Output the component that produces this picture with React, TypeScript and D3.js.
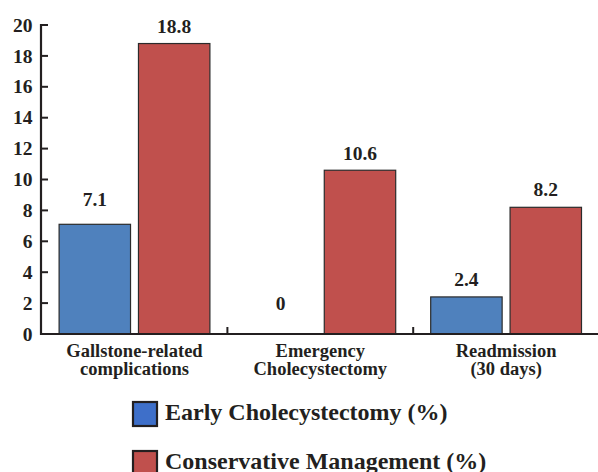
import React from "react";
import * as d3 from "d3";

// Outcome categories (two-line labels) and the two compared strategies
const categories = ["Gallstone-related complications", "Emergency Cholecystectomy", "Readmission (30 days)"];
const categoryLines = [
  ["Gallstone-related", "complications"],
  ["Emergency", "Cholecystectomy"],
  ["Readmission", "(30 days)"],
];
const seriesNames = ["Early Cholecystectomy (%)", "Conservative Management (%)"];
const earlyValues = [7.1, 0, 2.4];
const conservativeValues = [18.8, 10.6, 8.2];
const yTicks = [0, 2, 4, 6, 8, 10, 12, 14, 16, 18, 20];

// Vertical lift of each value label's baseline above its bar top
const earlyLabelLift = [18, 24, 11];
const conservativeLabelLift = [10.5, 10, 11];

const WIDTH = 598;
const HEIGHT = 472;
const FONT = "'Liberation Serif', 'Times New Roman', serif";
const INK = "#231f20";
const barFill = ["#4f81bd", "#c0504d"];
const legendFill = ["#3e6fc9", "#c0504d"];

export default function App() {
  const x0 = d3.scaleBand<string>().domain(categories).range([41.6, 599]).padding(0);
  const bw = x0.bandwidth();
  const x1 = d3
    .scaleBand<string>()
    .domain(seriesNames)
    .range([17.5, bw - 17.5])
    .paddingInner(0.1)
    .paddingOuter(0);
  const y = d3.scaleLinear().domain([0, 20]).range([334, 25]);

  const series = [
    { name: seriesNames[0], values: earlyValues, lift: earlyLabelLift, fill: barFill[0] },
    { name: seriesNames[1], values: conservativeValues, lift: conservativeLabelLift, fill: barFill[1] },
  ];

  const axisX = 41;
  const axisY = y(0);

  return (
    <svg
      width={WIDTH}
      height={HEIGHT}
      style={{ position: "absolute", left: 0, top: 0, background: "#fff" }}
      fontFamily={FONT}
      fontWeight="bold"
    >
      {/* bars */}
      {series.map((s) =>
        categories.map((c, i) =>
          s.values[i] > 0 ? (
            <rect
              key={s.name + c}
              x={(x0(c) ?? 0) + (x1(s.name) ?? 0)}
              y={y(s.values[i])}
              width={x1.bandwidth()}
              height={axisY - y(s.values[i])}
              fill={s.fill}
              stroke="#2b2b2b"
              strokeWidth={1.2}
            />
          ) : null
        )
      )}

      {/* value labels */}
      {series.map((s) =>
        categories.map((c, i) => (
          <text
            key={"v" + s.name + c}
            x={(x0(c) ?? 0) + (x1(s.name) ?? 0) + x1.bandwidth() / 2}
            y={y(s.values[i]) - s.lift[i]}
            textAnchor="middle"
            fontSize={19.5}
            fill={INK}
          >
            {s.values[i].toFixed(s.values[i] === 0 ? 0 : 1)}
          </text>
        ))
      )}

      {/* y axis */}
      <line x1={axisX} x2={axisX} y1={y(20) - 1} y2={axisY + 1} stroke={INK} strokeWidth={2.2} />
      {yTicks.map((t) => (
        <g key={"t" + t}>
          <line x1={axisX} x2={axisX + 7} y1={y(t)} y2={y(t)} stroke={INK} strokeWidth={2} />
          <text x={32.5} y={y(t)} dy="0.34em" textAnchor="end" fontSize={19.5} fill={INK}>
            {t}
          </text>
        </g>
      ))}

      {/* x axis */}
      <line x1={axisX - 1} x2={WIDTH} y1={axisY} y2={axisY} stroke={INK} strokeWidth={2.2} />
      {categories.slice(1).map((c) => (
        <line
          key={"xt" + c}
          x1={x0(c) ?? 0}
          x2={x0(c) ?? 0}
          y1={axisY}
          y2={axisY - 7}
          stroke={INK}
          strokeWidth={2}
        />
      ))}
      {categories.map((c, i) => (
        <text
          key={"xl" + c}
          x={(x0(c) ?? 0) + bw / 2}
          y={357}
          textAnchor="middle"
          fontSize={18.5}
          fill={INK}
        >
          {categoryLines[i].map((line, j) => (
            <tspan key={j} x={(x0(c) ?? 0) + bw / 2} dy={j === 0 ? 0 : 17.5}>
              {line}
            </tspan>
          ))}
        </text>
      ))}

      {/* legend */}
      {seriesNames.map((name, i) => (
        <g key={"lg" + name} transform={`translate(132, ${401 + i * 49})`}>
          <rect x={1} y={1} width={24} height={24} fill={legendFill[i]} stroke={INK} strokeWidth={2.2} />
          <text x={33} y={18.5} fontSize={24} fill={INK}>
            {name}
          </text>
        </g>
      ))}
    </svg>
  );
}
